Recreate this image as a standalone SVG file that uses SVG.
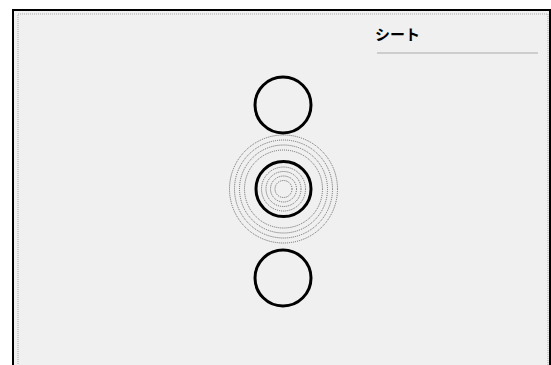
<svg xmlns="http://www.w3.org/2000/svg" width="551" height="365" viewBox="0 0 551 365">
<style>
.ring{fill:none;stroke:#666;stroke-width:1;stroke-dasharray:1 1}
.node{fill:none;stroke:#000;stroke-width:3}
</style>
<rect width="551" height="365" fill="#fff"/>
<g id="frame">
<rect x="13" y="10" width="537" height="360" fill="#f0f0f0" stroke="#000" stroke-width="2"/>
<rect x="18" y="14" width="530" height="360" fill="none" stroke="#aaa" stroke-width="1" stroke-dasharray="1 1"/>
</g>
<g id="sheet">
<text x="375" y="40" font-family="'Noto Sans CJK JP', sans-serif" font-size="15" font-weight="bold" fill="#000">シート</text>
<line x1="377" y1="53" x2="538" y2="53" stroke="#aaa" stroke-width="1"/>
</g>
<g id="connectors"></g>
<g id="top-circle"><circle class="node" cx="283" cy="105" r="28"/></g>
<g id="rings">
<circle class="ring" cx="283.5" cy="189" r="54"/>
<circle class="ring" cx="283.5" cy="189" r="49"/>
<circle class="ring" cx="283.5" cy="189" r="44"/>
<circle class="ring" cx="283.5" cy="189" r="39"/>
<circle class="ring" cx="283.5" cy="189" r="22"/>
<circle class="ring" cx="283.5" cy="189" r="17.5"/>
<circle class="ring" cx="283.5" cy="189" r="13"/>
<circle class="ring" cx="283.5" cy="189" r="8.5"/>
</g>
<g id="middle-circle"><circle class="node" cx="283.5" cy="189" r="27.5" stroke-width="4"/></g>
<g id="bottom-circle"><circle class="node" cx="283" cy="278" r="28"/></g>
</svg>
